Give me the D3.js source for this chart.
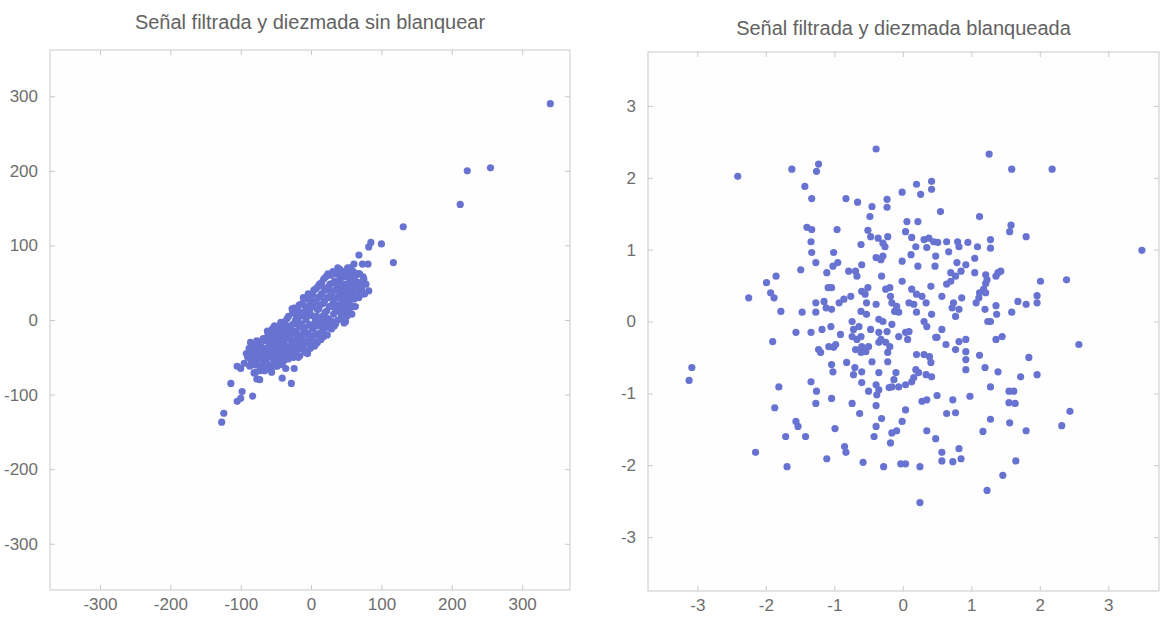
<!DOCTYPE html>
<html>
<head>
<meta charset="utf-8">
<script src="https://cdn.jsdelivr.net/npm/d3@7"></script>
<style>
  body { margin: 0; background: #ffffff; }
  svg text { font-family: "Liberation Sans", Arial, sans-serif; }
</style>
</head>
<body>
<svg id="chart" width="1161" height="622"></svg>
<script>
// Titles of the two scatter panels
const titleSinBlanquear = "Señal filtrada y diezmada sin blanquear";
const titleBlanqueada = "Señal filtrada y diezmada blanqueada";

// Tick values
const ticksSinBlanquear = [-300, -200, -100, 0, 100, 200, 300];
const ticksBlanqueada = [-3, -2, -1, 0, 1, 2, 3];

// Filtered and decimated signal, before whitening: [x, y] pairs
const sinBlanquear = [
  [340, 290], [222, 200], [255, 204], [212, 155], [131, 125], [100, 102], [85, 104], [82, 98],
  [68, 87], [61, 75], [73, 75], [81, 75], [117, 77], [50, 63], [68, 62], [40, 66], [58, 62],
  [75, 50], [68, 46], [61, 42], [82, 39], [73, 35], [54, 12],
  [-124, -125], [-127, -137], [-114, -85], [-105, -109], [-98, -96], [-100, -105], [-83, -102],
  [-100, -65], [-105, -62], [-81, -71], [-77, -79], [-88, -44], [-85, -51], [-74, -35],
  [-63, -24], [-55, -24], [-36, -65], [-24, -65], [-28, -85], [-41, -78], [-7, -44], [-24, 16], [7, -32],
  [-92, -45], [-88, -38], [-85, -55], [-82, -48], [-80, -60], [-95, -58], [-86, -30],
  [-78, -40], [-76, -52], [-74, -30], [-72, -62], [-70, -45], [-68, -25], [-67, -55], [-66, -68], [-79, -70], [-73, -80],
  [-64, -38], [-62, -50], [-61, -20], [-60, -60], [-58, -30], [-57, -42], [-56, -70], [-55, -12], [-54, -52], [-53, -25], [-52, -35], [-51, -62],
  [-49, -45], [-48, -18], [-47, -30], [-46, -55], [-45, -8], [-44, -38], [-43, -22], [-42, -48], [-41, -60], [-40, -12], [-39, -32], [-38, -42], [-37, -2], [-36, -25], [-35, -52],
  [-34, -15], [-33, -35], [-32, 5], [-31, -45], [-30, -22], [-29, -8], [-28, -40], [-27, -28], [-26, 10], [-25, -50], [-24, -15], [-23, -32], [-22, 0], [-21, -42], [-20, -20],
  [-19, 15], [-18, -30], [-17, -8], [-16, -48], [-15, 5], [-14, -22], [-13, 22], [-12, -36], [-11, -12], [-10, 10], [-9, -28], [-8, -42], [-7, 0], [-6, 28], [-5, -18],
  [-4, 14], [-3, -32], [-2, -6], [-1, 20], [0, -24], [1, 6], [2, 35], [3, -12], [4, 24], [5, -35], [6, 0], [7, 42], [8, -20], [9, 14], [10, 30],
  [11, -8], [12, 48], [13, 20], [14, -26], [15, 35], [16, 5], [17, -15], [18, 55], [19, 25], [20, -2], [21, 40], [22, 12], [23, -20], [24, 62], [25, 30],
  [26, 0], [27, 48], [28, 18], [29, -12], [30, 38], [31, 65], [32, 8], [33, 28], [34, 52], [35, -5], [36, 20], [37, 42], [38, 70], [39, 12], [40, 32],
  [41, 55], [42, 2], [43, 22], [44, 45], [45, 65], [46, 12], [47, 35], [48, 58], [49, -2], [50, 25], [51, 48], [52, 70], [53, 15], [54, 38], [55, 55],
  [56, 28], [57, 62], [58, 8], [59, 45], [60, 32], [62, 55], [63, 18], [64, 40], [66, 62], [68, 30], [70, 50], [72, 42], [74, 58], [76, 35], [78, 48],
  [-90, -50], [-87, -62], [-84, -42], [-81, -35], [-77, -58], [-75, -45], [-73, -68], [-71, -36], [-69, -52], [-77, -28],
  [-68, -62], [-66, -42], [-65, -28], [-63, -58], [-62, -15], [-60, -45], [-59, -35], [-58, -65], [-57, -20], [-55, -48],
  [-54, -38], [-53, -60], [-52, -8], [-51, -28], [-50, -52],
  [-49, -35], [-48, -62], [-47, -10], [-46, -42], [-45, -25], [-44, -52], [-43, -3], [-42, -32], [-41, -15], [-40, -45],
  [-39, -55], [-38, -20], [-37, -35], [-36, -8], [-35, -40], [-34, 2], [-33, -25], [-32, -52], [-31, -12], [-30, -35],
  [-29, -48], [-28, -18], [-27, 15], [-26, -38], [-25, -5], [-24, -28], [-23, -45], [-22, 8], [-21, -15], [-20, -35],
  [-19, -2], [-18, -50], [-17, 20], [-16, -25], [-15, -38], [-14, -5], [-13, 10], [-12, -20], [-11, 30], [-10, -40],
  [-9, -10], [-8, 18], [-7, -30], [-6, 5], [-5, -45], [-4, 35], [-3, -20], [-2, 12], [-1, -38], [0, 28],
  [1, -10], [2, -28], [3, 18], [4, 40], [5, -5], [6, -20], [7, 25], [8, 5], [9, -30], [10, 45],
  [11, 15], [12, -18], [13, 32], [14, 0], [15, 50], [16, -8], [17, 22], [18, -22], [19, 42], [20, 10],
  [21, 58], [22, -10], [23, 30], [24, 2], [25, 45], [26, 18], [27, -8], [28, 60], [29, 35], [30, -2],
  [31, 22], [32, 50], [33, -8], [34, 40], [35, 12], [36, 62], [37, 30], [38, 0], [39, 50], [40, 20],
  [41, 68], [42, 40], [43, 8], [44, 58], [45, 28], [46, 48], [47, -4], [48, 18], [49, 65], [50, 40],
  [51, 5], [52, 30], [53, 58], [54, 22], [55, 45], [56, 70], [57, 35], [58, 52], [59, 18], [60, 65],
  [61, 28], [62, 45], [63, 60], [65, 30], [66, 50], [67, 40], [69, 62], [71, 38], [73, 48], [75, 55]
];

// Same signal after whitening: [x, y] pairs
const blanqueada = [
  [-0.39, 2.40], [-2.41, 2.02], [-1.62, 2.12], [-1.23, 2.19], [-1.26, 2.09], [-1.43, 1.88], [-1.33, 1.71], [-0.83, 1.71], [-0.66, 1.66], [-0.45, 1.60],
  [-0.23, 1.70], [-0.23, 1.59], [-0.48, 1.46], [-0.01, 1.80], [0.20, 1.91], [0.26, 1.77], [0.42, 1.95], [0.42, 1.84], [0.06, 1.39], [0.22, 1.39],
  [-1.40, 1.31], [-1.33, 1.28], [-0.96, 1.28], [-0.51, 1.27], [-0.47, 1.18], [-0.36, 1.16], [-0.29, 1.09], [-0.26, 1.04], [-0.22, 1.18], [0.04, 1.25],
  [0.13, 1.17], [0.31, 1.14], [0.38, 1.16], [0.45, 1.11], [-1.34, 1.11], [-0.61, 1.07], [0.19, 1.04], [0.35, 1.03], [-1.33, 0.96], [-1.01, 0.96],
  [0.12, 0.93], [0.48, 0.91], [-0.39, 0.89], [-0.32, 0.86], [-0.29, 0.91], [-1.27, 0.82], [-1.02, 0.77], [-0.95, 0.82], [-0.01, 0.84], [0.22, 0.77],
  [0.47, 0.77], [-1.49, 0.72], [-1.11, 0.68], [-0.79, 0.70], [-0.69, 0.70], [-0.60, 0.79], [-0.67, 0.63], [-0.31, 0.63], [-1.85, 0.63], [-1.99, 0.54],
  [-0.01, 0.56], [0.41, 0.49], [-1.09, 0.47], [-1.04, 0.47], [-0.60, 0.42], [-0.51, 0.47], [-0.55, 0.38], [-0.25, 0.45], [-0.19, 0.47], [-0.18, 0.35],
  [-0.16, 0.26], [0.13, 0.45], [0.20, 0.38], [0.28, 0.35], [0.34, 0.26], [-1.93, 0.40], [-1.88, 0.33], [-2.25, 0.33], [-1.27, 0.26], [-1.15, 0.28],
  [-1.12, 0.19], [-1.04, 0.17], [-0.93, 0.26], [-0.86, 0.31], [-0.76, 0.35], [-0.53, 0.26], [-0.39, 0.24], [-0.09, 0.21], [-0.06, 0.13], [-0.12, 0.14],
  [0.09, 0.26], [0.16, 0.24], [-1.78, 0.14], [-1.47, 0.13], [-1.27, 0.13], [-0.61, 0.14], [-0.53, 0.10], [0.20, 0.13], [0.42, 0.10], [-1.05, -0.07],
  [-1.18, -0.11], [-0.74, 0.00], [-0.64, -0.07], [-0.35, 0.03], [-0.29, 0.00], [-0.16, -0.04], [0.31, 0.00], [0.35, -0.07], [-1.56, -0.15], [-1.34, -0.15],
  [-0.91, -0.18], [-0.72, -0.11], [-0.61, -0.21], [-0.47, -0.11], [-0.35, -0.15], [-0.23, -0.14], [0.04, -0.15], [0.09, -0.14],
  [-3.08, -0.64], [-3.12, -0.82], [-1.90, -0.28], [-1.23, -0.39], [-1.20, -0.43], [-1.08, -0.35], [-1.01, -0.36], [-0.98, -0.32], [-0.74, -0.21], [-0.67, -0.25],
  [-0.60, -0.35], [-0.69, -0.39], [-0.61, -0.43], [-0.54, -0.42], [-0.50, -0.35], [-0.32, -0.25], [-0.25, -0.29], [-0.19, -0.35], [-0.35, -0.29], [-0.22, -0.43],
  [-0.06, -0.21], [0.07, -0.25], [0.48, -0.22], [-1.04, -0.60], [-1.02, -0.70], [-0.82, -0.57], [-0.70, -0.64], [-0.60, -0.70], [-0.72, -0.74], [-0.45, -0.56],
  [-0.35, -0.71], [-0.22, -0.56], [0.20, -0.46], [0.31, -0.46], [0.39, -0.49], [0.41, -0.57], [0.19, -0.67], [0.23, -0.71], [0.34, -0.74], [0.42, -0.77],
  [-0.10, -0.71], [-0.13, -0.81], [-0.16, -0.91], [-0.20, -0.92], [-0.06, -0.91], [0.04, -0.88], [0.13, -0.84], [-0.60, -0.85], [-0.39, -0.88], [-0.35, -0.95],
  [-0.38, -1.02], [-0.50, -0.97], [-1.81, -0.91], [-1.34, -0.84], [-1.26, -0.97], [-1.87, -1.20], [-1.27, -1.14], [-1.04, -1.07], [-0.74, -1.14], [-0.63, -1.28],
  [-0.39, -1.17], [0.04, -1.23], [0.28, -1.11], [0.35, -1.09], [0.50, -1.03], [-1.56, -1.39], [-1.53, -1.46], [-1.71, -1.60], [-1.42, -1.60], [-0.99, -1.49],
  [-0.39, -1.46], [-0.31, -1.35], [-0.01, -1.39], [-0.16, -1.55], [-0.09, -1.52], [-0.18, -1.69], [-0.42, -1.60], [0.35, -1.52], [0.48, -1.63], [-2.15, -1.82],
  [-0.85, -1.74], [-0.83, -1.82], [-1.11, -1.91], [-0.58, -1.96], [-1.69, -2.02], [-0.28, -2.02], [-0.03, -1.98], [0.04, -1.98], [0.25, -2.02], [0.25, -2.52],
  [1.26, 2.33], [1.59, 2.12], [2.18, 2.12], [0.55, 1.53], [1.12, 1.46], [0.51, 1.10], [0.64, 1.11], [1.58, 1.34], [1.56, 1.25], [1.80, 1.18],
  [0.80, 1.11], [0.82, 1.04], [0.95, 1.10], [1.09, 1.04], [1.28, 1.14], [1.28, 1.02], [0.67, 0.97], [1.05, 0.88], [0.79, 0.82], [0.92, 0.79],
  [0.70, 0.68], [0.77, 0.63], [0.85, 0.70], [1.05, 0.68], [1.21, 0.65], [1.23, 0.58], [1.21, 0.53], [1.36, 0.63], [1.39, 0.68], [1.43, 0.70],
  [0.64, 0.52], [0.70, 0.56], [0.57, 0.35], [0.86, 0.33], [0.74, 0.26], [0.72, 0.19], [0.82, 0.17], [0.77, 0.07], [1.12, 0.40], [1.18, 0.45],
  [1.21, 0.40], [1.11, 0.33], [1.07, 0.26], [1.20, 0.17], [1.36, 0.22], [1.37, 0.10], [1.28, 0.00], [1.24, 0.00], [1.68, 0.28], [1.80, 0.24],
  [1.96, 0.36], [1.96, 0.26], [1.59, 0.13], [2.01, 0.56], [2.39, 0.58], [3.49, 0.99],
  [0.57, -0.11], [0.50, -0.22], [0.63, -0.32], [0.82, -0.28], [0.92, -0.25], [0.77, -0.39], [0.92, -0.42], [1.36, -0.25], [1.45, -0.21], [2.57, -0.32],
  [0.92, -0.53], [0.92, -0.67], [1.12, -0.47], [1.84, -0.50], [1.20, -0.64], [1.39, -0.70], [1.72, -0.77], [1.96, -0.74], [1.28, -0.91], [0.73, -1.09],
  [0.98, -1.04], [1.55, -0.97], [1.62, -0.97], [1.55, -1.13], [1.64, -1.14], [0.64, -1.28], [0.77, -1.27], [1.28, -1.36], [1.56, -1.41], [2.44, -1.25],
  [2.32, -1.45], [1.17, -1.53], [1.80, -1.52], [0.57, -1.82], [0.57, -1.94], [0.82, -1.77], [0.85, -1.91], [0.73, -1.95], [1.65, -1.94], [1.46, -2.14],
  [1.23, -2.35], [0.16, -0.78]
];

const svg = d3.select("#chart");
svg.append("rect").attr("width", 1161).attr("height", 622).attr("fill", "#ffffff");

const dotColor = "#6873d1";
const frameColor = "#c9c9c9";
const labelColor = "#6e6e6e";
// plain hyphen for negative tick labels
const tickLabel = d => (d < 0 ? "-" + Math.abs(d) : String(d));

function drawPanel(opts) {
  const { x0, x1, y0, y1, xDomain, yDomain, ticks, data, title, titleY } = opts;
  const x = d3.scaleLinear().domain(xDomain).range([x0, x1]);
  const y = d3.scaleLinear().domain(yDomain).range([y1, y0]);
  const g = svg.append("g");

  // plot area
  g.append("rect")
    .attr("x", x0).attr("y", y0)
    .attr("width", x1 - x0).attr("height", y1 - y0)
    .attr("fill", "#fefefe")
    .attr("stroke", frameColor).attr("stroke-width", 1);

  const styleAxis = (sel, showLabels) => {
    sel.select(".domain").remove();
    sel.selectAll(".tick line").attr("stroke", frameColor);
    sel.selectAll(".tick text")
      .attr("fill", labelColor)
      .style("font-size", "17px")
      .style("font-family", '"Liberation Sans", Arial, sans-serif');
    if (!showLabels) sel.selectAll(".tick text").remove();
  };

  g.append("g").attr("transform", `translate(0,${y1})`)
    .call(d3.axisBottom(x).tickValues(ticks).tickFormat(tickLabel).tickSize(-5).tickPadding(8))
    .call(s => styleAxis(s, true));
  g.append("g").attr("transform", `translate(0,${y0})`)
    .call(d3.axisTop(x).tickValues(ticks).tickSize(-5))
    .call(s => styleAxis(s, false));
  g.append("g").attr("transform", `translate(${x0},0)`)
    .call(d3.axisLeft(y).tickValues(ticks).tickFormat(tickLabel).tickSize(-5).tickPadding(12))
    .call(s => styleAxis(s, true));
  g.append("g").attr("transform", `translate(${x1},0)`)
    .call(d3.axisRight(y).tickValues(ticks).tickSize(-5))
    .call(s => styleAxis(s, false));

  g.append("text")
    .attr("x", (x0 + x1) / 2).attr("y", titleY)
    .attr("text-anchor", "middle")
    .attr("fill", "#626262")
    .style("font-size", "20px")
    .text(title);

  g.append("g").selectAll("circle")
    .data(data)
    .join("circle")
    .attr("cx", d => x(d[0]))
    .attr("cy", d => y(d[1]))
    .attr("r", 3.6)
    .attr("fill", dotColor);
}

drawPanel({
  x0: 50, x1: 570, y0: 50, y1: 590,
  xDomain: [-371, 368], yDomain: [-362, 362],
  ticks: ticksSinBlanquear, data: sinBlanquear,
  title: titleSinBlanquear, titleY: 29
});

drawPanel({
  x0: 648, x1: 1159, y0: 52, y1: 591,
  xDomain: [-3.72, 3.74], yDomain: [-3.75, 3.75],
  ticks: ticksBlanqueada, data: blanqueada,
  title: titleBlanqueada, titleY: 35
});
</script>
</body>
</html>
